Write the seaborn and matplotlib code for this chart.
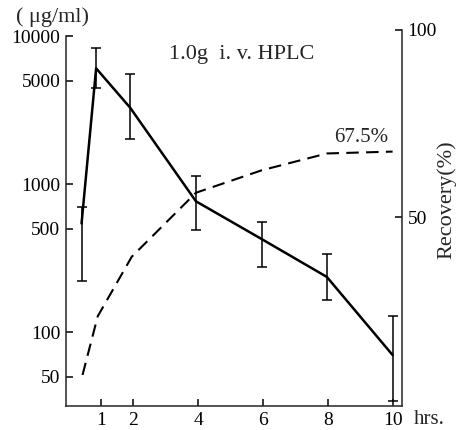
import seaborn as sns
import matplotlib.pyplot as plt
import pandas as pd
from matplotlib.ticker import FixedLocator, NullLocator, FixedFormatter

# serum concentration (solid line) with error bar ends
hrs_conc = [0.4, 0.85, 1.9, 3.93, 5.96, 7.97, 10.0]
conc = [542, 6050, 3280, 765, 425, 236, 70]
conc_low = [222, 4480, 2020, 489, 276, 166, 34]
conc_high = [703, 8260, 5510, 1133, 556, 335, 129]

# cumulative recovery (dashed line)
hrs_rec = [0.43, 0.9, 1.95, 3.93, 5.96, 7.97, 10.0]
recovery = [7.8, 23.5, 39.4, 56.5, 62.5, 67.0, 67.5]

x_ticks = [1, 2, 4, 6, 8, 10]
left_ticks = [50, 100, 500, 1000, 5000, 10000]
right_ticks = [50, 100]

df_conc = pd.DataFrame({"hrs": hrs_conc, "conc": conc})
df_rec = pd.DataFrame({"hrs": hrs_rec, "rec": recovery})

sns.set_style("ticks")
plt.rcParams['font.family'] = ['Liberation Serif', 'DejaVu Serif']

fig = plt.figure(figsize=(4.63, 4.30), dpi=100)
ax = fig.add_axes([66/463, 24/430, 336/463, 376/430])
ax.set_yscale("log")

yerr = [[c - l for c, l in zip(conc, conc_low)], [h - c for c, h in zip(conc, conc_high)]]
ax.errorbar(hrs_conc, conc, yerr=yerr, fmt="none", ecolor="black", elinewidth=1.1,
            capsize=3.5, capthick=1.1)
sns.lineplot(data=df_conc, x="hrs", y="conc", ax=ax, color="black", linewidth=1.8)

ax.set_xlim(-0.08, 10.29)
ax.set_ylim(31.7, 10980)
ax.xaxis.set_major_locator(FixedLocator(x_ticks))
ax.xaxis.set_major_formatter(FixedFormatter([str(t) for t in x_ticks]))
ax.yaxis.set_major_locator(FixedLocator(left_ticks))
ax.yaxis.set_major_formatter(FixedFormatter([str(t) for t in left_ticks]))
ax.yaxis.set_minor_locator(NullLocator())
ax.tick_params(direction="in", length=5, width=1.1, labelsize=14, pad=4, colors="black")
ax.set_xlabel("")
ax.set_ylabel("")
for s in ["top", "right"]:
    ax.spines[s].set_visible(False)
for s in ["left", "bottom"]:
    ax.spines[s].set_linewidth(1.1)
ax.spines["left"].set_bounds(31.7, 10000)

ax2 = ax.twinx()
sns.lineplot(data=df_rec, x="hrs", y="rec", ax=ax2, color="black", linewidth=1.5)
ax2.lines[0].set_dashes([6, 3.5])
ax2.set_ylim(-0.5, 100)
ax2.yaxis.set_major_locator(FixedLocator(right_ticks))
ax2.yaxis.set_major_formatter(FixedFormatter([str(t) for t in right_ticks]))
ax2.tick_params(direction="in", length=5, width=1.1, labelsize=14, pad=4, colors="black")
ax2.set_ylabel("")
ax2.set_xlabel("")
for s in ["top", "left", "bottom"]:
    ax2.spines[s].set_visible(False)
ax2.spines["right"].set_linewidth(1.1)

fig.text(53/463, 1 - 17/430, "( μg/ml)", fontsize=16, ha="center", va="center")
fig.text(242/463, 1 - 55/430, "1.0g  i. v. HPLC", fontsize=16, ha="center", va="center")
fig.text(361/463, 1 - 137/430, "67.5%", fontsize=15, ha="center", va="center")
fig.text(447/463, 1 - 200/430, "Recovery(%)", fontsize=16, rotation=90, ha="center", va="center")
fig.text(429/463, 1 - 419/430, "hrs.", fontsize=15, ha="center", va="center")

plt.savefig("out.png", dpi=100)
